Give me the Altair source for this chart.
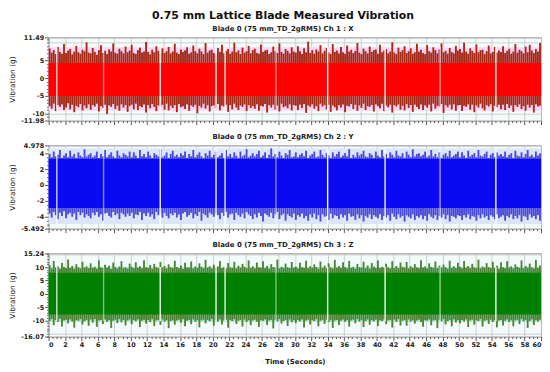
import altair as alt
import pandas as pd

TITLE = "0.75 mm Lattice Blade Measured Vibration"
PANEL_TITLES = ["Blade 0 (75 mm_TD_2gRMS)  Ch 1 : X",
                "Blade 0 (75 mm_TD_2gRMS)  Ch 2 : Y",
                "Blade 0 (75 mm_TD_2gRMS)  Ch 3 : Z"]
Y_DOMAINS = [[-11.98, 11.49], [-5.492, 4.978], [-16.07, 15.24]]
Y_LABELS = [[-11.98, -10, -5, 0, 5, 11.49],
            [-5.492, -4, -2, 0, 2, 4, 4.978],
            [-16.07, -10, -5, 0, 5, 10, 15.24]]
Y_GRID = [[-10, -5, 0, 5, 10], [-4, -2, 0, 2, 4], [-15, -10, -5, 0, 5, 10, 15]]
Y_MINOR = [list(range(-11, 12)), [k * 0.5 for k in range(-10, 10)], list(range(-16, 16))]
X_RANGE = [0, 60]

# dense core of the signal (lo, hi) and the pale halo behind the spikes (lo, hi)
CORE = [[-5.0, 4.3], [-2.9, 3.3], [-7.8, 8.0]]
BAND = [[-9.2, 8.7], [-4.9, 4.6], [-10.3, 10.1]]

# dropouts seen as white vertical lines (seconds) and how visible they are
GAP_T = [1.0, 6.7, 13.6, 20.4, 21.5, 27.7, 34.0, 41.0, 47.7, 54.5]
GAP_S = [0.8, 0.5, 0.95, 0.95, 0.9, 0.5, 1.0, 0.95, 0.6, 0.95]

# peak envelopes per 0.25 s
P1_HI = [8.4, 7.2, 7.9, 6.8, 8.8, 7.4, 6.9, 9.6, 7.1, 7.8, 8.2, 6.7, 7.5, 9.1, 7.3, 6.9, 8.0, 7.6, 10.1, 7.2,
         7.0, 8.5, 7.4, 6.6, 7.9, 9.3, 7.1, 7.7, 6.8, 8.1, 7.5, 9.8, 7.2, 6.9, 8.3, 7.6, 7.0, 8.9, 7.3, 7.8,
         9.4, 7.1, 6.8, 7.9, 8.6, 7.2, 7.5, 10.2, 7.4, 6.7, 8.0, 7.3, 9.0, 7.7, 6.9, 8.4, 7.1, 7.6, 8.8, 7.0,
         7.5, 9.7, 7.2, 6.8, 8.1, 7.4, 7.9, 8.7, 6.9, 7.3, 9.2, 7.6, 7.0, 8.3, 7.5, 6.8, 9.9, 7.2, 7.8, 8.0,
         7.1, 6.7, 8.5, 7.4, 9.4, 7.0, 7.7, 8.2, 6.9, 7.5, 10.0, 7.3, 7.8, 6.8, 8.6, 7.2, 7.6, 9.1, 7.0, 7.9,
         8.3, 7.1, 6.9, 9.5, 7.4, 7.8, 8.0, 6.8, 7.3, 8.9, 7.6, 7.1, 9.8, 7.4, 6.9, 8.2, 7.7, 7.0, 8.7, 7.5,
         7.2, 9.0, 7.6, 6.8, 8.4, 7.3, 10.3, 7.1, 7.9, 6.9, 8.1, 7.5, 9.3, 7.0, 7.7, 8.5, 7.2, 6.8, 9.6, 7.4,
         7.8, 7.0, 8.8, 7.3, 6.9, 9.2, 7.5, 8.0, 7.1, 7.7, 9.9, 7.2, 6.8, 8.3, 7.6, 7.0, 8.9, 7.4, 7.9, 8.1,
         6.9, 9.4, 7.3, 7.8, 8.2, 7.0, 7.5, 10.1, 7.2, 6.8, 8.6, 7.4, 7.9, 9.0, 7.1, 7.6, 8.4, 6.9, 7.3, 9.7,
         7.5, 8.0, 7.1, 6.8, 9.3, 7.6, 7.2, 8.7, 7.9, 7.0, 8.1, 9.8, 7.3, 7.7, 6.9, 8.5, 7.4, 7.0, 9.1, 7.8,
         8.2, 7.2, 10.0, 7.5, 6.9, 8.4, 7.7, 7.1, 9.5, 7.3, 7.9, 8.0, 6.8, 7.6, 9.2, 7.0, 7.4, 8.8, 7.2, 7.8,
         7.4, 9.0, 7.1, 7.7, 8.3, 6.9, 7.5, 9.6, 7.2, 8.0, 7.6, 7.0, 8.9, 7.3, 9.4, 7.8, 7.1, 8.2, 7.5, 9.9]
P1_LO = [-7.9, -8.6, -7.2, -9.3, -7.6, -8.1, -7.4, -9.0, -8.3, -7.1, -8.8, -7.5, -9.6, -7.8, -8.2, -7.3, -9.1, -7.7, -8.5, -7.4,
         -8.9, -7.6, -8.0, -7.2, -9.4, -7.9, -8.4, -7.5, -10.1, -7.7, -8.1, -7.3, -8.7, -7.8, -9.2, -7.4, -8.3, -7.6, -9.5, -7.9,
         -7.5, -8.8, -7.2, -9.0, -7.9, -8.2, -7.4, -9.7, -7.6, -8.5, -7.3, -8.1, -9.3, -7.7, -8.0, -7.5, -8.9, -7.2, -9.1, -7.8,
         -8.4, -7.6, -9.6, -7.3, -8.2, -7.9, -8.7, -7.4, -9.2, -7.7, -8.1, -7.5, -9.9, -7.8, -8.3, -7.2, -8.6, -7.6, -9.4, -7.9,
         -7.7, -8.5, -7.3, -9.1, -7.8, -8.0, -7.5, -9.5, -7.6, -8.8, -7.2, -8.3, -9.0, -7.7, -8.1, -7.4, -9.3, -7.6, -8.4, -7.9,
         -8.6, -7.4, -9.2, -7.8, -8.0, -7.3, -9.7, -7.6, -8.3, -7.5, -8.9, -7.7, -9.4, -7.2, -8.2, -7.9, -8.5, -7.4, -9.1, -7.6,
         -7.8, -9.0, -7.5, -8.4, -7.3, -9.8, -7.7, -8.1, -7.4, -8.6, -7.9, -9.3, -7.2, -8.0, -7.6, -8.8, -7.5, -9.5, -7.7, -8.2,
         -9.1, -7.6, -8.3, -7.4, -9.6, -7.8, -8.0, -7.3, -8.7, -7.5, -9.2, -7.7, -8.4, -7.2, -9.0, -7.9, -8.1, -7.6, -9.4, -7.4,
         -7.9, -8.5, -7.2, -9.3, -7.7, -8.2, -7.5, -9.7, -7.6, -8.0, -7.4, -8.9, -7.8, -9.1, -7.3, -8.4, -7.6, -9.5, -7.5, -8.1,
         -8.7, -7.4, -9.0, -7.7, -8.3, -7.5, -9.4, -7.2, -8.6, -7.8, -8.0, -7.3, -9.8, -7.6, -8.2, -7.5, -8.8, -7.4, -9.2, -7.7,
         -7.6, -9.3, -7.8, -8.1, -7.4, -8.9, -7.5, -9.6, -7.7, -8.3, -7.2, -8.5, -9.1, -7.6, -8.0, -7.4, -9.4, -7.8, -8.2, -7.5,
         -8.8, -7.5, -9.0, -7.3, -8.4, -7.7, -9.5, -7.6, -8.1, -7.4, -8.7, -7.9, -9.2, -7.5, -8.3, -7.6, -9.7, -7.4, -8.0, -7.8]

P2_HI = [3.9, 3.5, 4.2, 3.6, 3.8, 4.4, 3.4, 3.7, 4.0, 3.5, 4.3, 3.6, 3.9, 3.4, 4.1, 3.7, 3.5, 4.5, 3.6, 3.8,
         4.0, 3.5, 3.7, 4.2, 3.4, 3.9, 3.6, 4.4, 3.5, 3.8, 4.1, 3.6, 3.4, 4.3, 3.7, 3.5, 4.0, 3.8, 3.6, 4.2,
         3.5, 4.1, 3.7, 3.4, 4.4, 3.6, 3.9, 3.5, 4.2, 3.7, 3.4, 4.0, 3.8, 3.6, 4.5, 3.5, 3.7, 4.1, 3.4, 3.9,
         4.3, 3.6, 3.8, 3.5, 4.0, 3.7, 4.2, 3.4, 3.9, 3.6, 4.4, 3.5, 3.8, 4.1, 3.6, 3.4, 4.0, 3.7, 4.3, 3.5,
         3.8, 4.2, 3.5, 3.7, 4.0, 3.4, 4.4, 3.6, 3.9, 3.5, 4.1, 3.7, 3.4, 4.2, 3.6, 3.8, 4.5, 3.5, 3.7, 4.0,
         3.6, 3.9, 4.3, 3.5, 3.7, 4.1, 3.4, 3.8, 4.6, 3.6, 3.9, 3.5, 4.2, 3.7, 3.4, 4.0, 3.8, 4.4, 3.5, 3.6,
         4.1, 3.5, 3.8, 4.0, 3.6, 4.3, 3.4, 3.7, 3.9, 4.2, 3.5, 3.6, 4.4, 3.8, 3.5, 4.0, 3.7, 3.4, 4.1, 3.6,
         3.9, 4.2, 3.5, 3.7, 4.0, 3.6, 4.5, 3.4, 3.8, 3.5, 4.1, 3.7, 3.9, 4.3, 3.6, 3.5, 4.0, 3.8, 3.4, 4.2,
         3.7, 3.5, 4.4, 3.6, 3.9, 3.4, 4.1, 3.8, 3.5, 4.3, 3.7, 3.6, 4.0, 3.4, 4.2, 3.8, 3.5, 4.5, 3.6, 3.9,
         4.0, 3.6, 3.8, 4.2, 3.5, 3.7, 4.4, 3.6, 3.9, 3.5, 4.1, 3.4, 3.8, 4.0, 3.6, 4.3, 3.5, 3.7, 3.9, 4.2,
         3.5, 4.1, 3.7, 3.4, 4.3, 3.6, 3.8, 4.0, 3.5, 4.4, 3.7, 3.6, 3.9, 4.2, 3.4, 3.8, 4.0, 3.5, 4.1, 3.7,
         3.9, 3.6, 4.2, 3.5, 3.8, 4.0, 3.4, 4.3, 3.7, 3.6, 4.1, 3.5, 3.9, 4.4, 3.6, 3.8, 3.5, 4.2, 3.7, 4.0]
P2_LO = [-3.6, -4.1, -3.4, -3.8, -4.3, -3.5, -3.9, -3.3, -4.2, -3.7, -3.5, -4.0, -3.6, -4.4, -3.4, -3.8, -3.5, -4.1, -3.7, -3.9,
         -4.2, -3.5, -3.8, -3.4, -4.0, -3.7, -4.5, -3.6, -3.5, -3.9, -4.1, -3.4, -3.8, -3.6, -4.3, -3.5, -3.7, -4.0, -3.6, -3.9,
         -3.5, -4.2, -3.7, -3.8, -3.4, -4.4, -3.6, -3.9, -3.5, -4.0, -3.7, -4.3, -3.4, -3.8, -3.6, -4.1, -3.5, -3.9, -4.2, -3.6,
         -3.8, -3.5, -4.1, -3.7, -4.4, -3.6, -3.4, -4.0, -3.8, -3.5, -4.2, -3.7, -3.9, -3.4, -4.5, -3.6, -3.8, -4.1, -3.5, -3.7,
         -4.0, -3.6, -3.8, -4.3, -3.5, -3.9, -3.4, -4.1, -3.7, -3.6, -4.4, -3.5, -3.8, -4.0, -3.6, -4.2, -3.4, -3.7, -3.9, -4.3,
         -3.7, -4.1, -3.5, -3.9, -4.6, -3.6, -3.8, -4.0, -3.5, -4.2, -3.7, -3.4, -4.3, -3.8, -3.6, -4.5, -3.7, -3.9, -4.1, -3.6,
         -4.4, -3.8, -4.0, -3.6, -4.2, -3.9, -4.5, -3.7, -4.1, -3.6, -4.3, -3.8, -4.6, -3.7, -4.0, -3.9, -4.4, -3.6, -4.2, -3.8,
         -3.9, -4.3, -3.7, -4.1, -3.8, -4.5, -3.6, -4.0, -3.9, -4.4, -3.7, -4.2, -3.8, -4.6, -3.9, -4.1, -3.7, -4.3, -3.8, -4.0,
         -4.2, -3.7, -4.4, -3.9, -4.1, -3.8, -4.5, -3.6, -4.0, -4.3, -3.7, -4.1, -3.9, -4.6, -3.8, -4.0, -4.2, -3.7, -4.4, -3.9,
         -4.1, -3.8, -4.3, -3.9, -4.5, -3.7, -4.0, -4.2, -3.8, -4.4, -3.9, -4.1, -3.7, -4.3, -3.8, -4.6, -3.9, -4.0, -4.2, -3.8,
         -3.9, -4.4, -3.8, -4.1, -3.7, -4.3, -3.9, -4.0, -4.5, -3.8, -4.2, -3.7, -4.1, -3.9, -4.4, -3.8, -4.0, -4.3, -3.7, -4.2,
         -4.0, -3.8, -4.5, -3.9, -4.1, -3.7, -4.3, -3.9, -4.2, -3.8, -4.6, -3.9, -4.0, -4.4, -3.7, -4.1, -3.9, -4.3, -3.8, -4.5]

P3_HI = [10.8, 9.6, 12.4, 9.9, 10.3, 9.4, 11.6, 10.1, 9.7, 12.9, 9.8, 10.5, 9.5, 11.2, 10.0, 9.6, 12.1, 9.9, 10.4, 9.7,
         11.5, 9.8, 10.2, 9.5, 12.6, 10.0, 9.7, 11.0, 9.9, 10.6, 9.4, 11.8, 10.1, 9.6, 10.3, 12.3, 9.8, 10.0, 9.5, 11.4,
         10.2, 9.7, 11.9, 9.9, 10.4, 9.6, 12.7, 10.0, 9.8, 10.9, 9.5, 11.3, 10.1, 9.7, 12.0, 9.9, 10.5, 9.6, 11.1, 10.0,
         9.8, 12.5, 10.1, 9.7, 10.7, 9.5, 11.7, 10.0, 9.9, 12.2, 9.6, 10.3, 9.8, 11.5, 10.2, 9.7, 12.8, 9.9, 10.4, 9.6,
         11.0, 9.9, 10.3, 12.4, 9.7, 10.1, 9.5, 11.6, 10.0, 9.8, 12.1, 9.6, 10.6, 9.9, 11.3, 10.2, 9.7, 12.6, 9.8, 10.4,
         9.6, 11.8, 10.0, 9.8, 12.3, 9.7, 10.5, 9.5, 11.2, 10.1, 9.9, 12.9, 9.6, 10.2, 9.8, 11.4, 10.0, 9.7, 12.0, 9.9,
         10.3, 9.6, 11.7, 10.0, 9.8, 12.5, 9.7, 10.4, 9.9, 11.1, 10.1, 9.5, 12.2, 9.8, 10.6, 9.7, 11.5, 10.0, 9.6, 12.8,
         9.9, 10.5, 9.7, 11.9, 10.1, 9.6, 12.4, 9.8, 10.2, 9.5, 11.3, 10.0, 9.9, 12.1, 9.7, 10.7, 9.6, 11.6, 10.3, 9.8,
         12.6, 9.7, 10.1, 9.9, 11.4, 10.0, 9.6, 12.3, 9.8, 10.5, 9.7, 11.8, 10.2, 9.9, 12.0, 9.6, 10.4, 9.8, 11.2, 10.0,
         9.7, 12.7, 9.9, 10.3, 9.6, 11.5, 10.1, 9.8, 12.2, 9.7, 10.6, 9.9, 11.0, 10.0, 9.5, 12.5, 9.8, 10.4, 9.7, 11.7,
         10.2, 9.6, 12.4, 9.9, 10.5, 9.7, 11.3, 10.0, 9.8, 12.9, 9.6, 10.3, 9.9, 11.6, 10.1, 9.7, 12.1, 9.8, 10.6, 9.5,
         11.9, 10.0, 9.7, 12.3, 9.9, 10.4, 9.6, 11.1, 10.2, 9.8, 12.6, 9.7, 10.5, 9.9, 11.4, 10.0, 9.6, 12.8, 9.8, 10.7]
P3_LO = [-10.2, -9.5, -11.8, -9.8, -10.6, -9.4, -12.3, -10.0, -9.7, -11.1, -9.6, -10.4, -12.7, -9.9, -10.1, -9.5, -11.5, -10.3, -9.8, -12.0,
         -9.7, -10.8, -9.5, -12.4, -10.0, -9.8, -11.3, -9.6, -10.5, -9.9, -12.8, -10.1, -9.7, -11.0, -9.5, -10.7, -9.8, -11.9, -10.0, -9.6,
         -11.4, -9.8, -10.3, -9.6, -12.5, -10.1, -9.7, -11.2, -9.9, -10.6, -9.5, -12.1, -10.0, -9.8, -11.7, -9.6, -10.4, -9.9, -12.9, -10.2,
         -9.9, -11.6, -10.0, -9.7, -10.9, -9.5, -12.2, -10.1, -9.8, -11.4, -9.6, -10.5, -9.9, -12.6, -10.0, -9.7, -11.1, -9.8, -10.3, -9.5,
         -12.0, -9.8, -10.4, -9.6, -11.5, -10.0, -9.7, -12.7, -9.9, -10.2, -9.5, -11.3, -10.1, -9.8, -12.3, -9.6, -10.6, -9.9, -11.8, -10.0,
         -9.7, -10.5, -12.4, -9.9, -10.1, -9.6, -11.7, -10.0, -9.8, -13.0, -9.7, -10.3, -9.5, -11.2, -10.2, -9.8, -12.1, -9.6, -10.7, -9.9,
         -11.0, -9.8, -10.4, -9.6, -12.6, -10.0, -9.7, -11.5, -9.9, -10.2, -9.5, -12.2, -10.1, -9.8, -11.3, -9.7, -10.6, -9.9, -12.8, -10.0,
         -9.8, -11.7, -10.1, -9.6, -10.5, -9.9, -12.3, -10.0, -9.7, -11.1, -9.5, -10.4, -9.8, -12.5, -10.2, -9.6, -11.6, -9.9, -10.3, -9.7,
         -12.1, -9.9, -10.2, -9.6, -11.4, -10.0, -9.8, -12.7, -9.7, -10.5, -9.5, -11.9, -10.1, -9.8, -12.0, -9.6, -10.4, -9.9, -11.2, -10.0,
         -9.7, -10.6, -12.4, -9.9, -10.1, -9.6, -11.8, -10.0, -9.8, -12.9, -9.7, -10.3, -9.5, -11.5, -10.2, -9.8, -12.2, -9.6, -10.8, -9.9,
         -11.1, -9.8, -10.4, -9.6, -12.5, -10.0, -9.7, -11.6, -9.9, -10.2, -9.5, -12.3, -10.1, -9.8, -11.3, -9.7, -10.5, -9.9, -12.6, -10.0,
         -9.8, -11.9, -10.1, -9.6, -10.6, -9.9, -12.2, -10.0, -9.7, -11.4, -9.5, -10.3, -9.8, -12.8, -10.2, -9.6, -11.7, -9.9, -10.4, -9.7]

HI = [P1_HI, P2_HI, P3_HI]
LO = [P1_LO, P2_LO, P3_LO]

CORE_COLORS = ["#ff0000", "#0a0af2", "#008000"]
SPIKE_COLORS = ["#a42a18", "#4a4ad8", "#4f8236"]
BAND_COLORS = ["#ffd4f4", "#dce6fb", "#a6f2d2"]

FONT = "DejaVu Sans"
W, H = 497, 84


def x_encoding(bottom):
    ticks = [k * 0.5 for k in range(121)]
    axis = alt.Axis(
        values=ticks,
        labels=bottom,
        labelExpr="datum.value % 2 === 0 ? toString(datum.value) : ''",
        title="Time (Seconds)" if bottom else None,
        grid=True,
        gridOpacity={"condition": {"test": "datum.value % 2 === 0", "value": 1}, "value": 0},
        tickSize={"condition": {"test": "datum.value % 2 === 0", "value": 4}, "value": 2},
        domain=False,
    )
    return alt.X("t:Q", scale=alt.Scale(domain=X_RANGE, nice=False, zero=False), axis=axis)


def y_axis(i):
    labs = Y_LABELS[i]
    vals = sorted(set(Y_MINOR[i] + labs))
    lab_list = "[" + ",".join(str(v) for v in labs) + "]"
    grid_list = "[" + ",".join(str(v) for v in Y_GRID[i]) + "]"
    return alt.Axis(
        values=vals,
        labelExpr=f"indexof({lab_list}, datum.value) >= 0 ? toString(datum.value) : ''",
        title="Vibration (g)",
        grid=True,
        gridOpacity={"condition": {"test": f"indexof({grid_list}, datum.value) >= 0", "value": 1}, "value": 0},
        tickSize={"condition": {"test": f"indexof({lab_list}, datum.value) >= 0", "value": 4}, "value": 2},
        domain=False,
    )


def panel(i, bottom):
    n = min(len(HI[i]), len(LO[i]))
    times = [0.125 + 0.25 * k for k in range(n)]
    df = pd.DataFrame({"t": times, "hi": HI[i][:n], "lo": LO[i][:n]})
    ext = pd.DataFrame({"t": X_RANGE,
                        "core_lo": [CORE[i][0]] * 2, "core_hi": [CORE[i][1]] * 2,
                        "band_lo": [BAND[i][0]] * 2, "band_hi": [BAND[i][1]] * 2})
    gaps = pd.DataFrame({"t": GAP_T, "s": GAP_S,
                         "band_lo": [BAND[i][0]] * len(GAP_T), "band_hi": [BAND[i][1]] * len(GAP_T)})
    ysc = alt.Scale(domain=Y_DOMAINS[i], nice=False, zero=False)
    X = x_encoding(bottom)
    yax = y_axis(i)

    band = alt.Chart(ext).mark_area(color=BAND_COLORS[i]).encode(
        x=X, y=alt.Y("band_lo:Q", scale=ysc, axis=yax), y2="band_hi:Q")
    spikes = alt.Chart(df).mark_rule(color=SPIKE_COLORS[i], strokeWidth=1.9).encode(
        x=X, y=alt.Y("lo:Q", scale=ysc, axis=yax), y2="hi:Q")
    core = alt.Chart(ext).mark_area(color=CORE_COLORS[i]).encode(
        x=X, y=alt.Y("core_lo:Q", scale=ysc, axis=yax), y2="core_hi:Q")
    gap = alt.Chart(gaps).mark_rule(color="#ffffff", strokeWidth=1.4).encode(
        x=X, y=alt.Y("band_lo:Q", scale=ysc, axis=yax), y2="band_hi:Q",
        opacity=alt.Opacity("s:Q", scale=None, legend=None))

    return alt.layer(band, spikes, core, gap).properties(
        width=W, height=H,
        title=alt.TitleParams(PANEL_TITLES[i], fontSize=7, fontWeight="bold", font=FONT,
                              anchor="middle", frame="bounds", dx=8, offset=2, color="#222222"),
    )


chart = alt.vconcat(panel(0, False), panel(1, False), panel(2, True), spacing=7).properties(
    title=alt.TitleParams(TITLE, fontSize=11, fontWeight="bold", font=FONT, anchor="middle",
                          dx=8, dy=-2, offset=2, color="#111111"),
    padding={"left": 0, "top": 0, "right": 0, "bottom": 0},
).configure_view(
    fill="#f3fcfb", stroke="#8c8c8c", strokeWidth=1
).configure_axis(
    labelFont=FONT, labelFontSize=6.5, labelFontWeight="bold", labelColor="#222222",
    labelPadding=1, tickColor="#555555", gridColor="#c4c4c4", gridWidth=0.8,
    titleFont=FONT, titleFontSize=7.5, titleFontWeight="normal", titleColor="#222222",
    titlePadding=4,
).configure_axisX(
    titleFontWeight="bold", titleFontSize=7, titlePadding=10
)

chart.save("out.html", embed_options={"renderer": "svg", "actions": False})
